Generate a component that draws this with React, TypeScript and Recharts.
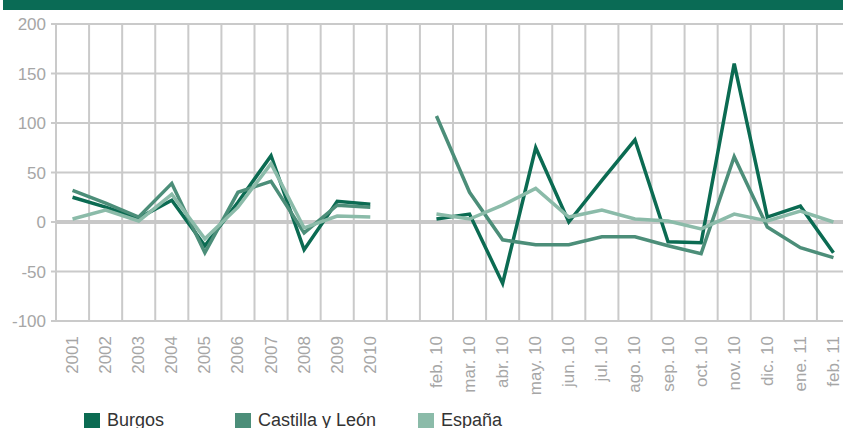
import { LineChart, Line, XAxis, YAxis, CartesianGrid, ReferenceLine } from 'recharts'

const annualCats = ['2001', '2002', '2003', '2004', '2005', '2006', '2007', '2008', '2009', '2010']
const monthCats = ['feb. 10', 'mar. 10', 'abr. 10', 'may. 10', 'jun. 10', 'jul. 10', 'ago. 10', 'sep. 10', 'oct. 10', 'nov. 10', 'dic. 10', 'ene. 11', 'feb. 11']
// empty slot separates the annual and monthly blocks
const categories = [...annualCats, '', ...monthCats]

const burgos = [25, 15, 4, 22, -24, 20, 67, -28, 21, 18, null, 3, 8, -62, 75, 0, 42, 83, -20, -21, 160, 5, 16, -31]
const castilla = [32, 19, 5, 39, -31, 30, 41, -11, 17, 15, null, 107, 30, -18, -23, -23, -15, -15, -24, -32, 66, -5, -26, -36]
const espana = [3, 12, 1, 28, -17, 15, 59, -6, 6, 5, null, 8, 3, 17, 34, 5, 12, 3, 1, -7, 8, 1, 11, 0]

const yTicks = [-100, -50, 0, 50, 100, 150, 200]

const series = [
  { key: 'burgos', name: 'Burgos', color: '#0b6b52', values: burgos },
  { key: 'castilla', name: 'Castilla y León', color: '#4c8e79', values: castilla },
  { key: 'espana', name: 'España', color: '#8bbba9', values: espana },
]

const data = categories.map((name, i) => ({
  x: i + 0.5,
  name,
  burgos: burgos[i],
  castilla: castilla[i],
  espana: espana[i],
}))

const boundaryTicks = categories.map((_, i) => i).concat(categories.length)
const labelTicks = data.filter(d => d.name !== '').map(d => d.x)

const font = '"Liberation Sans", Arial, sans-serif'

function XTick({ x, y, payload }: any) {
  const label = categories[Math.floor(payload.value)]
  return (
    <text
      x={x}
      y={y}
      transform={`rotate(-90 ${x} ${y})`}
      textAnchor="end"
      dominantBaseline="central"
      fill="#a6a6a6"
      fontSize={17}
      fontFamily={font}
    >
      {label}
    </text>
  )
}

// vertical grid sits on the slot boundaries, not on the category centres
const gridX = ({ offset }: any) =>
  boundaryTicks.map(t => offset.left + (t * offset.width) / categories.length)

export default function App() {
  return (
    <div style={{ position: 'absolute', left: 0, top: 0, width: 843, height: 428, overflow: 'hidden', background: '#fff' }}>
      <div style={{ position: 'absolute', left: 3, top: 0, width: 840, height: 10, background: '#0a6b55' }} />
      <LineChart
        width={850}
        height={428}
        data={data}
        margin={{ top: 24, right: 0, left: 0, bottom: 0 }}
      >
        <CartesianGrid stroke="#cacaca" strokeWidth={2} verticalCoordinatesGenerator={gridX} />
        <XAxis
          xAxisId="grid"
          type="number"
          dataKey="x"
          domain={[0, categories.length]}
          ticks={boundaryTicks}
          tick={false}
          axisLine={false}
          tickLine={{ stroke: '#cacaca', strokeWidth: 2 }}
          tickSize={6}
          height={6}
        />
        <XAxis
          xAxisId="lab"
          type="number"
          dataKey="x"
          domain={[0, categories.length]}
          ticks={labelTicks}
          tick={<XTick />}
          axisLine={false}
          tickLine={false}
          tickSize={0}
          tickMargin={9}
          interval={0}
          height={101}
        />
        <YAxis
          type="number"
          domain={[-100, 200]}
          ticks={yTicks}
          width={56}
          axisLine={false}
          tickLine={{ stroke: '#cacaca', strokeWidth: 2 }}
          tickSize={5}
          tickMargin={5}
          tick={{ fill: '#a6a6a6', fontSize: 17, fontFamily: font }}
        />
        <ReferenceLine xAxisId="lab" y={0} stroke="#c8c8c8" strokeWidth={4} />
        {series.map(s => (
          <Line
            key={s.key}
            xAxisId="lab"
            dataKey={s.key}
            stroke={s.color}
            strokeWidth={3.5}
            dot={false}
            activeDot={false}
            connectNulls={false}
            isAnimationActive={false}
          />
        ))}
      </LineChart>
      <div style={{ position: 'absolute', top: 410, left: 84, display: 'flex', fontFamily: font, fontSize: 18, color: '#333' }}>
        {series.map((s, i) => (
          <div key={s.key} style={{ display: 'flex', alignItems: 'flex-start', width: i === 0 ? 151 : 183 }}>
            <div style={{ width: 16, height: 16, marginTop: 3, background: s.color }} />
            <span style={{ marginLeft: 7, lineHeight: '20px' }}>{s.name}</span>
          </div>
        ))}
      </div>
    </div>
  )
}
